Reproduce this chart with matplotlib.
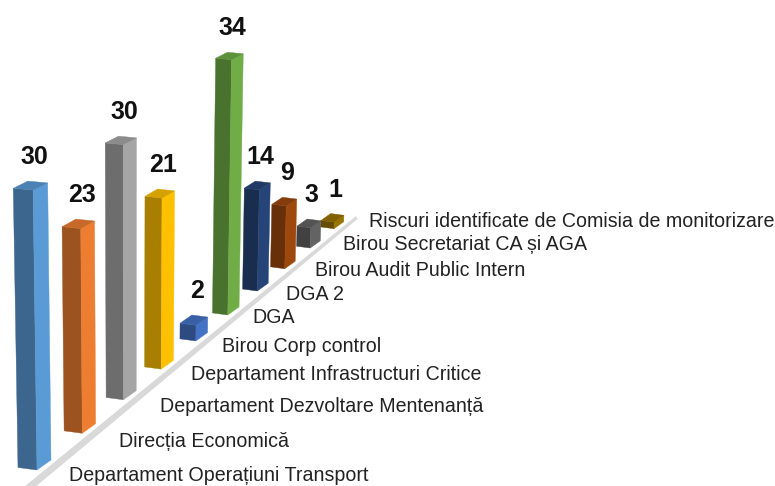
import matplotlib
matplotlib.use("Agg")
import matplotlib.pyplot as plt
import numpy as np

plt.rcParams['font.family'] = ['Liberation Sans', 'DejaVu Sans']

categories = ["Departament Operațiuni Transport", "Direcția Economică",
              "Departament Dezvoltare Mentenanță", "Departament Infrastructuri Critice",
              "Birou Corp control", "DGA", "DGA 2", "Birou Audit Public Intern",
              "Birou Secretariat CA și AGA", "Riscuri identificate de Comisia de monitorizare"]
values = [30, 23, 30, 21, 2, 34, 14, 9, 3, 1]
colors = ["#5b9bd5", "#ed7d31", "#a5a5a5", "#ffc000", "#4472c4",
          "#70ad47", "#264478", "#9e480e", "#636363", "#997300"]

# layout: left edge and centre line of the category labels, in pixels
label_x = [69, 119, 160, 191, 222, 252, 286, 315, 343, 369]
label_y = [475, 441, 406, 374, 346, 317, 294, 270, 244, 221]

# hand-fitted perspective of the picture
vanish = np.array([1013.0, -323.0])
origin = np.array([37.0, 470.0])
unit_height = 9.33
depth_step = 0.0052 / 0.107
left_off = np.array([-19.0, -2.5])
right_off = np.array([14.0, -10.0])


def ratio(i):
    "Shrink factor of the bar slot i"
    return 1.0 / (1.0 + depth_step * i)


def project(i, offset, value=0.0):
    "Screen position of a bar corner, verticals lean away from x=130"
    r = ratio(i)
    h = value * unit_height * r
    # the top is seen flatter the higher it is
    squash = np.array([1.0, 1.0 - 0.001 * h])
    p = vanish + (origin - vanish) * r + offset * squash * r
    return np.array([p[0] + (p[0] - 130) * 0.00015 * h, p[1] - h])


def draw_bar(ax, i, value, color):
    rgb = np.array(matplotlib.colors.to_rgb(color))
    mid = np.zeros(2)
    back = left_off + right_off
    # left face, right face, top
    left = [project(i, left_off), project(i, mid), project(i, mid, value), project(i, left_off, value)]
    right = [project(i, mid), project(i, right_off), project(i, right_off, value), project(i, mid, value)]
    top = [project(i, c, value) for c in (left_off, mid, right_off, back)]
    for pts, shade in ((left, 0.66), (right, 1.0), (top, 0.84)):
        xs, ys = zip(*pts)
        ax.fill(xs, ys, color=rgb * shade, lw=0.3, zorder=3 + (10 - i))
    # value label sits above the back corner of the top
    tx = project(i, mid, value)[0] + 1
    ty = project(i, back, value)[1] - 24
    ax.text(tx, ty, str(value), ha='center', va='center', fontsize=18,
            fontweight='bold', color='#111111', zorder=20)


fig = plt.figure(figsize=(7.75, 4.86), dpi=100)
ax = fig.add_axes([0, 0, 1, 1])
ax.set_xlim(0, 775)
ax.set_ylim(486, 0)
ax.axis('off')

# floor edge, gets thinner towards the back
a = project(-1.05, np.array([12.0, 1.0]))
b = project(9.65, np.array([12.0, 1.0]))
d = (b - a) / np.hypot(*(b - a))
n = np.array([-d[1], d[0]])
floor = [a + n * 3.8, b + n * 1.6, b - n * 1.6, a - n * 3.8]
ax.fill(*zip(*floor), color='#d9d9d9', lw=0, zorder=1)

for i, (v, c) in enumerate(zip(values, colors)):
    draw_bar(ax, i, v, c)

for name, x, y in zip(categories, label_x, label_y):
    ax.text(x, y, name, ha='left', va='center', fontsize=14.1, color='#222222', zorder=20)

fig.savefig("out.png", dpi=100)
